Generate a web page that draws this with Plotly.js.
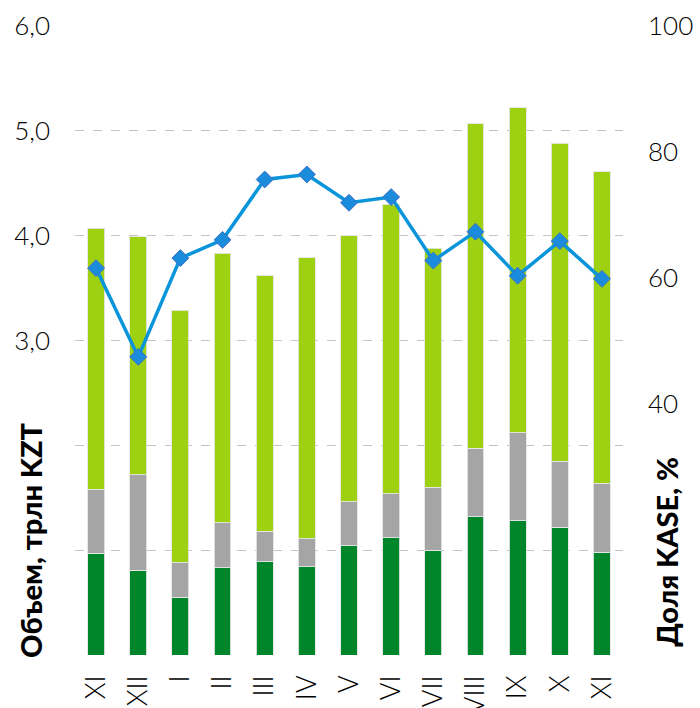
<!DOCTYPE html>
<html>
<head>
<meta charset="utf-8">
<script src="https://cdn.plot.ly/plotly-3.0.1.min.js"></script>
<style>
  html, body { margin: 0; padding: 0; background: #fff; }
  #chart { width: 700px; height: 708px; }
</style>
</head>
<body>
<div id="chart"></div>
<script>
// Month labels (Roman numerals)
const months = ['XI', 'XII', 'I', 'II', 'III', 'IV', 'V', 'VI', 'VII', 'VIII', 'IX', 'X', 'XI'];
// Volume segments, trillion KZT
const darkGreen = [0.97, 0.81, 0.55, 0.83, 0.89, 0.84, 1.04, 1.12, 1.00, 1.32, 1.28, 1.22, 0.98];
const grey      = [0.61, 0.91, 0.33, 0.43, 0.29, 0.27, 0.42, 0.42, 0.60, 0.65, 0.84, 0.63, 0.66];
const lightGreen= [2.49, 2.27, 2.41, 2.57, 2.44, 2.68, 2.54, 2.76, 2.28, 3.10, 3.10, 3.03, 2.97];
// KASE share, %
const kaseShare = [61.5, 47.4, 63.1, 66.0, 75.6, 76.4, 71.9, 72.8, 62.7, 67.3, 60.3, 65.8, 59.8];
// Axis tick labels
const leftTickVals = [0, 1, 2, 3, 4, 5, 6];
const leftTickText = ['', '', '', '3,0', '4,0', '5,0', '6,0'];
const rightTickVals = [0, 20, 40, 60, 80, 100];
const rightTickText = ['', '', '40', '60', '80', '100'];

const xIdx = months.map((_, i) => i);
const barLine = { color: 'rgba(230,230,230,0.9)', width: 1 };

const traces = [
  { type: 'bar', x: xIdx, y: darkGreen, marker: { color: '#00862A', line: barLine }, hoverinfo: 'y' },
  { type: 'bar', x: xIdx, y: grey, marker: { color: '#A5A5A5', line: barLine }, hoverinfo: 'y' },
  { type: 'bar', x: xIdx, y: lightGreen, marker: { color: '#9FD113', line: barLine }, hoverinfo: 'y' },
  { type: 'scatter', mode: 'lines+markers', x: xIdx, y: kaseShare, yaxis: 'y2',
    line: { color: '#0A95DA', width: 3.5 },
    marker: { symbol: 'diamond', size: 13, color: '#1B8BDC', line: { color: '#3F6FC6', width: 1 } },
    hoverinfo: 'y' }
];

const tickFont = { family: 'Lato, "DejaVu Sans", sans-serif', size: 26, color: '#000', weight: 300 };

const layout = {
  width: 700, height: 708,
  margin: { l: 75, r: 77, t: 26, b: 53 },
  paper_bgcolor: '#fff', plot_bgcolor: '#fff',
  showlegend: false,
  barmode: 'stack',
  bargap: 0.6,
  xaxis: {
    range: [-0.5, 12.5],
    tickvals: xIdx, ticktext: months,
    tickangle: -90,
    tickfont: { family: 'Lato, "DejaVu Sans", sans-serif', size: 27, color: '#000', weight: 300 },
    showgrid: false, zeroline: false, showline: false,
    ticks: '', ticklabelstandoff: 14
  },
  yaxis: {
    range: [0, 6],
    tickvals: leftTickVals, ticktext: leftTickText,
    tickfont: tickFont,
    showgrid: true, gridcolor: '#c4c4c4', gridwidth: 1, griddash: 'dash',
    zeroline: false, showline: false, ticks: '', ticklabelstandoff: 24
  },
  yaxis2: {
    range: [0, 100],
    overlaying: 'y', side: 'right',
    tickvals: rightTickVals, ticktext: rightTickText,
    tickfont: tickFont,
    showgrid: false, zeroline: false, showline: false, ticks: '', ticklabelstandoff: 24
  },
  annotations: [
    { text: 'Объем, трлн KZT', textangle: -90, xref: 'paper', yref: 'paper',
      x: -0.080, y: 0.183, xanchor: 'center', yanchor: 'middle', showarrow: false,
      font: { family: 'Lato, "DejaVu Sans", sans-serif', size: 29, color: '#000', weight: 900 } },
    { text: 'Доля KASE, %', textangle: -90, xref: 'paper', yref: 'paper',
      x: 1.080, y: 0.164, xanchor: 'center', yanchor: 'middle', showarrow: false,
      font: { family: 'Lato, "DejaVu Sans", sans-serif', size: 29, color: '#000', weight: 900 } }
  ]
};

Plotly.newPlot('chart', traces, layout, { displayModeBar: false, staticPlot: true });
</script>
</body>
</html>
